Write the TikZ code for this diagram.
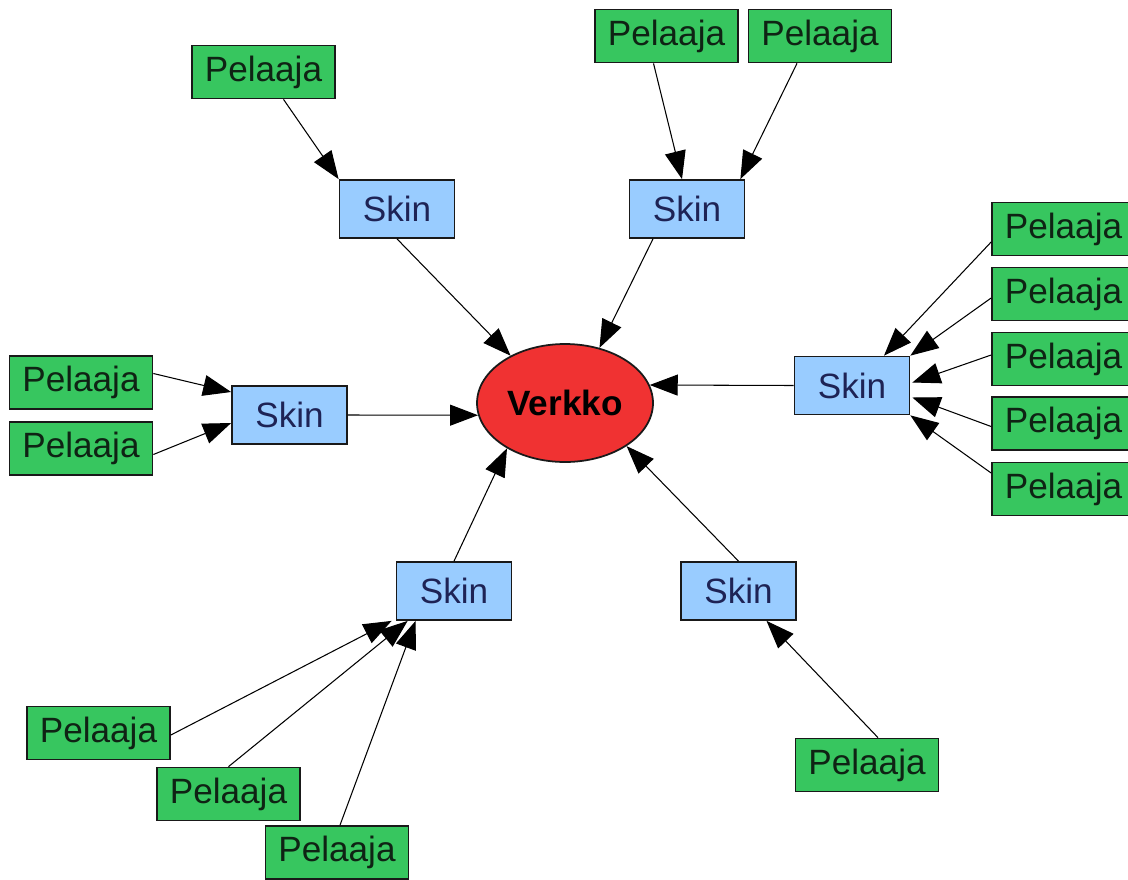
\documentclass[tikz,border=0pt]{standalone}
\usepackage{fontspec}
\setmainfont{Liberation Sans}
\usetikzlibrary{arrows.meta,shapes.geometric,calc}
\definecolor{pgreen}{RGB}{55,198,95}
\definecolor{sblue}{RGB}{153,204,255}
\definecolor{vred}{RGB}{240,50,50}
\definecolor{edgecol}{RGB}{25,25,25}
\definecolor{skintext}{RGB}{30,35,85}
\definecolor{peltext}{RGB}{15,35,20}
\begin{document}
\begin{tikzpicture}[x=0.02cm,y=-0.02cm,
  pelaaja/.style={draw=edgecol, line width=1pt, fill=pgreen, minimum width=2.86cm, minimum height=1.06cm, inner sep=0pt, font=\fontsize{20}{24}\selectfont, text=peltext},
  skin/.style={draw=edgecol, line width=1pt, fill=sblue, minimum width=2.3cm, minimum height=1.16cm, inner sep=0pt, font=\fontsize{20}{24}\selectfont, text=skintext},
  verkko/.style={ellipse, draw=edgecol, line width=1pt, fill=vred, minimum width=3.52cm, minimum height=2.36cm, inner sep=0pt, font=\fontsize{20}{24}\selectfont\bfseries, text=black},
  conn/.style={draw=black, line width=0.6pt, -{Triangle[length=0.56cm,width=0.42cm]}}
]
\useasboundingbox (0,0) rectangle (1128,879);
\clip (0,0) rectangle (1128,879);
\fill[white] (0,0) rectangle (1128,879);

% centre
\node[verkko] (V) at (565,403) {Verkko};

% skins
\node[skin] (S1) at (397,209) {Skin};
\node[skin] (S2) at (687,209) {Skin};
\node[skin] (S3) at (289.5,415) {Skin};
\node[skin] (S4) at (852,385.5) {Skin};
\node[skin] (S5) at (454,591) {Skin};
\node[skin] (S6) at (738.5,591) {Skin};

% players
\node[pelaaja] (P1) at (263.5,72) {Pelaaja};
\node[pelaaja] (P2) at (666.5,36) {Pelaaja};
\node[pelaaja] (P3) at (820,36) {Pelaaja};
\node[pelaaja] (P4) at (1063.5,229) {Pelaaja};
\node[pelaaja] (P5) at (1063.5,294) {Pelaaja};
\node[pelaaja] (P6) at (1063.5,359) {Pelaaja};
\node[pelaaja] (P7) at (1063.5,423.5) {Pelaaja};
\node[pelaaja] (P8) at (1063.5,489) {Pelaaja};
\node[pelaaja] (P9) at (81,382.5) {Pelaaja};
\node[pelaaja] (P10) at (81,448.5) {Pelaaja};
\node[pelaaja] (P11) at (98.5,733) {Pelaaja};
\node[pelaaja] (P12) at (228.5,794) {Pelaaja};
\node[pelaaja] (P13) at (337,852.5) {Pelaaja};
\node[pelaaja] (P14) at (867,765) {Pelaaja};

% skins to network
\draw[conn] (S1.south) -- (V.139);
\draw[conn] ($(S2.south)+(-34,0)$) -- (V.58);
\draw[conn] (S3.east) -- (V.188);
\draw[conn] (S4.west) -- (V.12);
\draw[conn] (S5.north) -- (V.218);
\draw[conn] (S6.north) -- (V.325);

% top
\draw[conn] ($(P1.south)+(20,0)$) -- (S1.north west);
\draw[conn] ($(P2.south)+(-13,0)$) -- ($(S2.north)+(-5,0)$);
\draw[conn] ($(P3.south)+(-23,0)$) -- ($(S2.north east)+(-5,0)$);

% right column
\draw[conn] ($(P4.west)+(0,13)$) -- ($(S4.north)+(32,0)$);
\draw[conn] ($(P5.west)+(0,4)$) -- (S4.north east);
\draw[conn] ($(P6.west)+(0,-4)$) -- ($(S4.east)+(2,-3)$);
\draw[conn] ($(P7.west)+(0,3)$) -- ($(S4.east)+(2,12)$);
\draw[conn] ($(P8.west)+(0,-16)$) -- (S4.south east);

% left
\draw[conn] ($(P9.east)+(0,-9)$) -- ($(S3.west)+(0,-23)$);
\draw[conn] ($(P10.east)+(0,6)$) -- ($(S3.west)+(0,8)$);

% bottom left
\draw[conn] ($(P11.east)+(0,2)$) -- ($(S5.south west)+(-4,0)$);
\draw[conn] (P12.north) -- ($(S5.south west)+(12,0)$);
\draw[conn] ($(P13.north)+(3,0)$) -- ($(S5.south west)+(20,0)$);

% bottom right
\draw[conn] ($(P14.north)+(11,0)$) -- ($(S6.south)+(28,0)$);
\end{tikzpicture}
\end{document}
